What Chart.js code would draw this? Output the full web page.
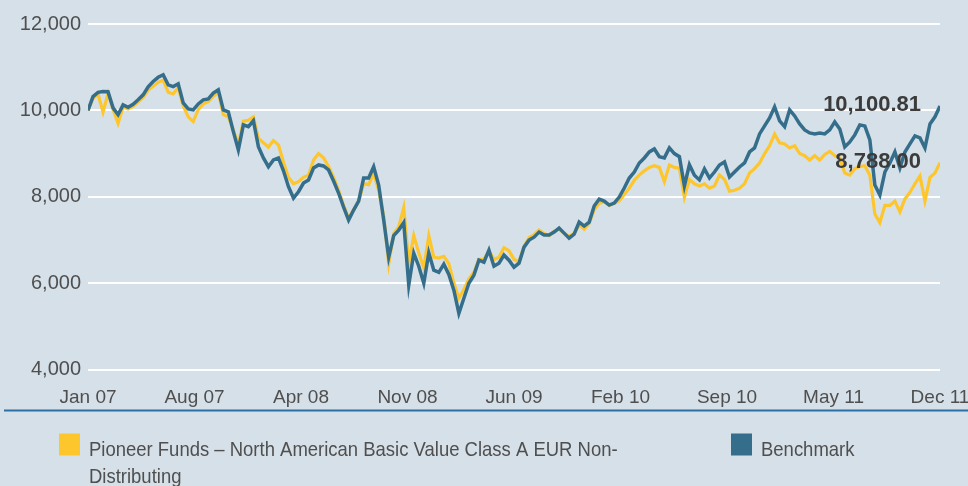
<!DOCTYPE html>
<html>
<head>
<meta charset="utf-8">
<script src="https://cdn.jsdelivr.net/npm/chart.js@4.4.1/dist/chart.umd.min.js"></script>
<style>
  html, body { margin: 0; padding: 0; background: #d6e0e8; }
  #wrap { width: 968px; height: 486px; position: relative; }
</style>
</head>
<body>
<div id="wrap"><canvas id="growth"></canvas></div>
<script>
// Growth of 10,000 invested, Jan 2007 – Dec 2011 (roughly weekly observations)
const tickLabels = ['Jan 07', 'Aug 07', 'Apr 08', 'Nov 08', 'Jun 09', 'Feb 10', 'Sep 10', 'May 11', 'Dec 11'];
const seriesNames = ['Pioneer Funds – North American Basic Value Class A EUR Non-Distributing', 'Benchmark'];
const yTicks = [4000, 6000, 8000, 10000, 12000];

const fund = [
  10000, 10280, 10380, 9960, 10390, 10020, 9700, 10080, 10030, 10090,
  10190, 10300, 10470, 10560, 10650, 10700, 10420, 10380, 10530, 10100,
  9850, 9740, 10020, 10150, 10200, 10330, 10420, 9900, 9850, 9550,
  9200, 9750, 9770, 9850, 9350, 9250, 9150, 9300, 9200, 8800,
  8450, 8300, 8350, 8450, 8500, 8850, 9000, 8900, 8700, 8450,
  8150, 7800, 7500, 7700, 7900, 8300, 8280, 8550, 8150, 7550,
  6450, 7150, 7300, 7750, 6450, 7100, 6700, 6350, 7100, 6600,
  6580, 6620, 6450, 6000, 5650, 5850, 6100, 6250, 6550, 6550,
  6750, 6550, 6600, 6820, 6750, 6550, 6500, 6850, 7050, 7120,
  7230, 7150, 7100, 7200, 7250, 7150, 7080, 7150, 7350, 7250,
  7380, 7700, 7850, 7880, 7800, 7850, 7900, 8050, 8200, 8380,
  8500, 8600, 8680, 8720, 8680, 8350, 8735, 8680, 8660, 7990,
  8400, 8300, 8250, 8300, 8200, 8250, 8500, 8400, 8130, 8150,
  8200, 8300, 8550, 8650, 8780, 9000, 9180, 9450, 9250, 9220,
  9130, 9180, 9000, 8950, 8850, 8950, 8850, 8980, 9050, 8950,
  8900, 8550, 8500, 8650, 8700, 8720, 8500, 7600, 7400, 7800,
  7800, 7900, 7650, 7950, 8100, 8300, 8480, 7900, 8450, 8550,
  8788.00
];

const benchmark = [
  10000, 10320, 10418, 10436, 10430, 10058, 9900, 10128, 10070, 10140,
  10244, 10360, 10545, 10668, 10766, 10824, 10592, 10552, 10615, 10174,
  10035, 10012, 10150, 10244, 10267, 10400, 10476, 10012, 9965, 9508,
  9084, 9664, 9624, 9760, 9160, 8898, 8696, 8852, 8898, 8600,
  8232, 7970, 8116, 8318, 8388, 8666, 8736, 8712, 8620, 8364,
  8086, 7761, 7460, 7692, 7900, 8434, 8434, 8696, 8272, 7460,
  6600, 7100, 7228, 7400, 5952, 6694, 6392, 5998, 6700, 6300,
  6250, 6440, 6200, 5836, 5300, 5650, 5998, 6184, 6532, 6485,
  6764, 6392, 6462, 6648, 6532, 6369, 6462, 6833, 6996, 7065,
  7181, 7112, 7112, 7181, 7274, 7158, 7042, 7135, 7413, 7320,
  7413, 7784, 7947, 7900, 7808, 7854, 7993, 8202, 8434, 8573,
  8782, 8898, 9037, 9107, 8928, 8900, 9130, 9000, 8928, 8250,
  8740, 8500, 8390, 8643, 8434, 8573, 8736, 8805, 8457, 8573,
  8689, 8782, 9037, 9130, 9455, 9640, 9826, 10081, 9756, 9624,
  10012, 9872, 9687, 9548, 9478, 9455, 9478, 9455, 9548, 9733,
  9571, 9153, 9269, 9432, 9664, 9640, 9316, 8272, 8040, 8573,
  8782, 9037, 8666, 9037, 9223, 9408, 9362, 9130, 9687, 9850,
  10100.81
];

const SPAN = 59; // months from first to last observation
const FUND_COLOR = '#fec62d';
const BENCH_COLOR = '#356e8b';
const TEXT_COLOR = '#4f4f4f';
const FONT_FAMILY = '"Liberation Sans", Arial, sans-serif';

const toPoints = arr => arr.map((v, i) => ({ x: i * SPAN / (arr.length - 1), y: v }));

function fmt(v, digits) {
  return v.toLocaleString('en-US', { minimumFractionDigits: digits, maximumFractionDigits: digits });
}

// split a label into lines no wider than maxW (breaks at spaces and after hyphens)
function wrapText(ctx, text, maxW, sx) {
  const tokens = text.match(/[^ -]+-?| +/g);
  const lines = [];
  let cur = '';
  tokens.forEach(t => {
    const trial = cur + t;
    if (cur.trim() && ctx.measureText(trial.trimEnd()).width * sx > maxW) {
      lines.push(cur.trimEnd());
      cur = t.trim() ? t : '';
    } else {
      cur = trial;
    }
  });
  if (cur.trim()) lines.push(cur.trimEnd());
  return lines;
}

const decor = {
  id: 'decor',
  afterDraw(chart) {
    const { ctx, chartArea, scales } = chart;
    ctx.save();

    // rule under the date labels
    ctx.strokeStyle = '#2c6fa5';
    ctx.lineWidth = 2;
    ctx.beginPath();
    ctx.moveTo(4, chartArea.bottom + 41);
    ctx.lineTo(chart.width, chartArea.bottom + 41);
    ctx.stroke();

    // closing values at the end of each line
    ctx.font = 'bold 22px ' + FONT_FAMILY;
    ctx.fillStyle = '#3b3b3b';
    ctx.textAlign = 'right';
    ctx.textBaseline = 'middle';
    chart.data.datasets.forEach(ds => {
      const last = ds.data[ds.data.length - 1];
      const x = scales.x.getPixelForValue(last.x) - 19;
      const y = scales.y.getPixelForValue(last.y) - 1;
      ctx.fillText(fmt(last.y, 2), x, y);
    });

    // legend
    const sx = 0.88;
    const items = [
      { left: 59, color: FUND_COLOR, name: seriesNames[0] },
      { left: 731, color: BENCH_COLOR, name: seriesNames[1] }
    ];
    const top = chartArea.bottom + 64;
    ctx.font = '21px ' + FONT_FAMILY;
    ctx.textAlign = 'left';
    ctx.textBaseline = 'alphabetic';
    items.forEach(it => {
      ctx.fillStyle = it.color;
      ctx.fillRect(it.left, top, 21, 22);
      ctx.fillStyle = TEXT_COLOR;
      const lines = wrapText(ctx, it.name, 540, sx);
      lines.forEach((ln, i) => {
        ctx.save();
        ctx.translate(it.left + 30, top + 22 + i * 27);
        ctx.scale(sx, 1);
        ctx.fillText(ln, 0, 0);
        ctx.restore();
      });
    });

    ctx.restore();
  }
};

new Chart(document.getElementById('growth'), {
  type: 'line',
  data: {
    datasets: [
      {
        label: seriesNames[1],
        data: toPoints(benchmark),
        borderColor: BENCH_COLOR,
        borderWidth: 3.5,
        pointRadius: 0,
        tension: 0,
        order: 0
      },
      {
        label: seriesNames[0],
        data: toPoints(fund),
        borderColor: FUND_COLOR,
        borderWidth: 3.2,
        pointRadius: 0,
        tension: 0,
        order: 1
      }
    ]
  },
  options: {
    responsive: true,
    maintainAspectRatio: false,
    animation: false,
    layout: { padding: { top: 24, right: 28, left: 0, bottom: 0 } },
    plugins: { legend: { display: false }, tooltip: { enabled: false } },
    scales: {
      x: {
        type: 'linear',
        min: 0,
        max: SPAN,
        grid: { display: false, drawTicks: false },
        border: { display: false },
        afterBuildTicks: axis => {
          axis.ticks = tickLabels.map((_, i) => ({ value: i * SPAN / (tickLabels.length - 1) }));
        },
        afterFit: s => { s.height = 116.5; s.paddingLeft = 0; s.paddingRight = 0; },
        ticks: {
          autoSkip: false,
          maxRotation: 0,
          padding: 17,
          color: TEXT_COLOR,
          font: { family: FONT_FAMILY, size: 19 },
          callback: (v, i) => tickLabels[i]
        }
      },
      y: {
        min: 4000,
        max: 12000,
        grid: { color: '#ffffff', lineWidth: 2, drawTicks: false },
        border: { display: false },
        afterBuildTicks: axis => { axis.ticks = yTicks.map(v => ({ value: v })); },
        afterFit: s => { s.width = 88; },
        ticks: {
          padding: 7,
          color: TEXT_COLOR,
          font: { family: FONT_FAMILY, size: 20 },
          callback: v => fmt(v, 0)
        }
      }
    }
  },
  plugins: [decor]
});
</script>
</body>
</html>
